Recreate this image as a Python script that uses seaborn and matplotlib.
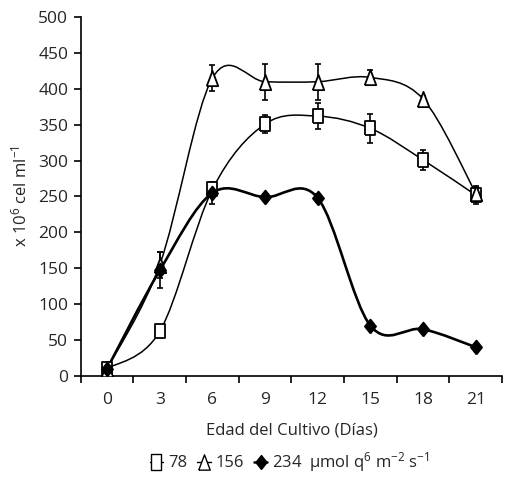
import numpy as np
import matplotlib
matplotlib.use("Agg")
import matplotlib.pyplot as plt
from matplotlib.path import Path
from matplotlib.patches import PathPatch
from matplotlib.lines import Line2D
import seaborn as sns

# datos
dias = [0, 3, 6, 9, 12, 15, 18, 21]
luz_78 = [10, 62, 260, 351, 362, 345, 301, 252]
err_78 = [4, 4, 8, 12, 18, 20, 14, 12]
luz_156 = [10, 155, 415, 410, 410, 416, 386, 255]
err_156 = [4, 18, 18, 25, 25, 10, 4, 8]
luz_234 = [10, 147, 255, 249, 248, 70, 65, 40]
err_234 = [4, 25, 15, 4, 6, 4, 4, 4]

sns.set_theme(style="ticks")
plt.rcParams['font.family'] = ['Open Sans', 'DejaVu Sans']
plt.rcParams['mathtext.fontset'] = 'custom'
plt.rcParams['mathtext.rm'] = 'Open Sans'
plt.rcParams['mathtext.it'] = 'Open Sans'
plt.rcParams['mathtext.default'] = 'regular'

fig = plt.figure(figsize=(5.05, 4.9), dpi=100)
ax = fig.add_axes([0.160, 0.233, 0.834, 0.732])

x = np.arange(len(dias))

# marcadores algo alargados, como en el original
m_rect = [(-0.68, -1), (0.68, -1), (0.68, 1), (-0.68, 1), (-0.68, -1)]
m_tri = [(-0.75, -1), (0.75, -1), (0, 1), (-0.75, -1)]
m_diam = [(0, -1), (0.8, 0), (0, 1), (-0.8, 0), (0, -1)]


def curva_suave(ax, xs, ys, lw):
    # curva tipo Excel (Catmull-Rom como Bezier cubica)
    pts = np.column_stack([xs, ys]).astype(float)
    n = len(pts)
    verts = [pts[0]]
    codes = [Path.MOVETO]
    for i in range(n - 1):
        p0 = pts[i - 1] if i > 0 else pts[i]
        p1 = pts[i]
        p2 = pts[i + 1]
        p3 = pts[i + 2] if i + 2 < n else pts[i + 1]
        c1 = p1 + (p2 - p0) / 6.0
        c2 = p2 - (p3 - p1) / 6.0
        verts += [c1, c2, p2]
        codes += [Path.CURVE4] * 3
    ax.add_patch(PathPatch(Path(verts, codes), facecolor='none',
                           edgecolor='black', lw=lw, zorder=2))


series = [
    (luz_78, err_78, m_rect, 'white', 1.1, 10.5),
    (luz_156, err_156, m_tri, 'white', 1.1, 11),
    (luz_234, err_234, m_diam, 'black', 1.9, 10),
]

for vals, errs, mk, fc, lw, ms in series:
    curva_suave(ax, x, vals, lw)
    ax.errorbar(x, vals, yerr=errs, fmt='none', ecolor='black',
                elinewidth=1.2, capsize=2.5, capthick=1.2, zorder=3)
    sns.scatterplot(x=x, y=vals, marker=mk, s=ms ** 2, color=fc,
                    edgecolor='black', linewidth=1.3, zorder=4, ax=ax)

ax.set_ylim(0, 500)
ax.set_xlim(-0.5, len(dias) - 0.5)
ax.set_yticks(range(0, 501, 50))
ax.set_xticks(np.arange(-0.5, len(dias), 1.0))
ax.set_xticklabels([])
ax.set_xticks(x, minor=True)
ax.set_xticklabels([str(d) for d in dias], minor=True)
ax.tick_params(axis='x', which='minor', length=0, pad=12, labelsize=12.5)
ax.tick_params(axis='x', which='major', length=5, width=1.2, color='black')
ax.tick_params(axis='y', length=5, width=1.2, color='black', labelsize=12.5, pad=4)
sns.despine(ax=ax)
for lado in ['left', 'bottom']:
    ax.spines[lado].set_linewidth(1.2)
    ax.spines[lado].set_color('black')

ax.set_ylabel('x 10$^{6}$ cel ml$^{-1}$', fontsize=12, labelpad=6)
ax.set_xlabel('Edad del Cultivo (Días)', fontsize=12, labelpad=10)

handles = [
    Line2D([0], [0], color='black', lw=1, marker=m_rect, markersize=11,
           markerfacecolor='white', markeredgecolor='black'),
    Line2D([0], [0], color='black', lw=1, marker=m_tri, markersize=11,
           markerfacecolor='white', markeredgecolor='black'),
    Line2D([0], [0], color='black', lw=1.8, marker=m_diam, markersize=10,
           markerfacecolor='black', markeredgecolor='black'),
]
labels = ['78', '156', '234  µmol q$^{6}$ m$^{-2}$ s$^{-1}$']
fig.legend(handles, labels, loc='center', bbox_to_anchor=(0.574, 0.057),
           ncol=3, frameon=False, fontsize=12, handlelength=0.8,
           handletextpad=0.3, columnspacing=0.6)

fig.savefig('out.png', dpi=100)
